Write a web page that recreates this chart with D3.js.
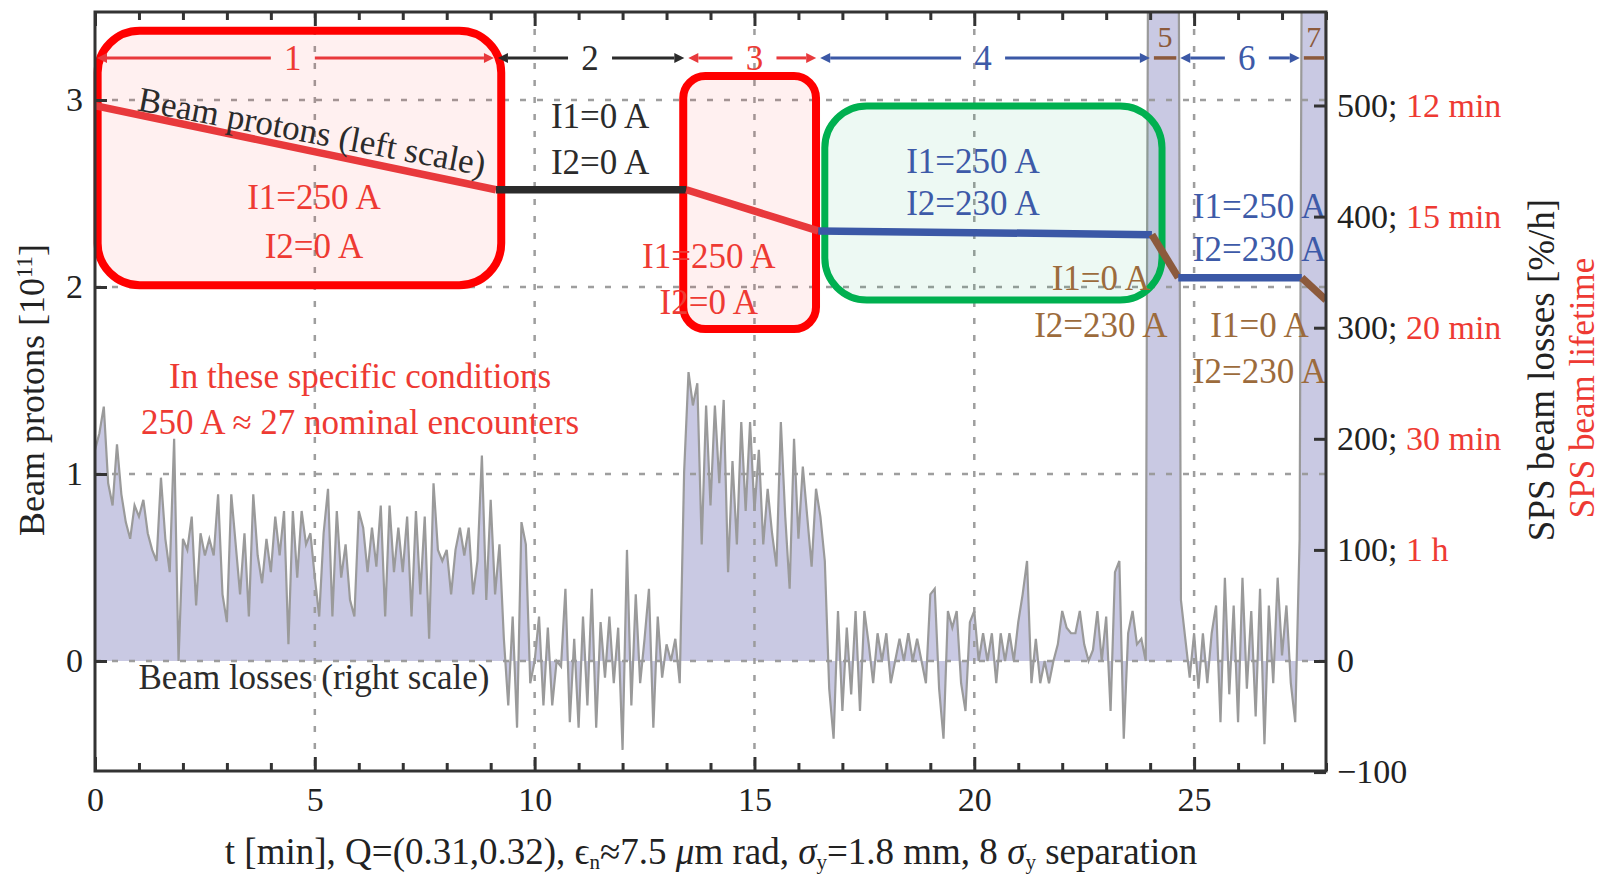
<!DOCTYPE html>
<html><head><meta charset="utf-8">
<script src="https://cdn.jsdelivr.net/npm/d3@7"></script>
<style>
body{margin:0;background:#fff}
svg{display:block}
text{font-family:"Liberation Serif","DejaVu Serif",serif}
</style>
</head><body>
<svg id="c" width="1603" height="876"></svg>
<script>
// ---------------- data ----------------
const timeStep = 0.1; // minutes between loss samples
const losses = [
 190,205,229,160,140,195,150,125,110,140,
 130,145,115,100,90,165,110,80,200,0,
 110,100,130,50,115,95,110,95,150,60,
 35,150,105,60,115,40,150,95,70,110,
 80,130,95,135,15,135,75,135,105,115,
 75,40,115,155,40,135,75,105,55,40,
 135,120,80,120,85,140,40,140,80,120,
 80,130,40,135,60,130,20,160,100,90,
 100,60,100,120,95,120,60,90,185,55,
 145,60,105,20,-40,40,-60,125,105,-20,
 0,40,-40,30,-40,0,-5,65,-55,20,
 -60,40,-40,65,-60,35,-15,40,-20,30,
 -80,100,-40,60,-20,20,65,-60,40,-15,
 15,0,20,-20,170,260,230,250,105,230,
 140,230,160,235,80,180,105,215,135,215,
 135,190,105,155,115,85,215,130,65,200,
 110,175,130,85,155,130,90,-25,-70,45,
 -45,30,-30,45,-45,45,15,-20,25,0,
 25,-20,0,20,0,25,0,20,0,-20,
 60,65,-25,-70,45,30,45,-20,-45,35,
 45,0,25,0,25,-20,25,0,25,0,
 35,60,90,-20,20,-20,0,-20,0,15,
 45,30,25,25,45,15,0,10,45,0,
 40,-45,80,90,-70,25,45,15,20,0,
 1200,1200,1200,1200,1200,1200,1200,55,20,-15,
 25,-25,25,-20,25,50,-55,75,-30,50,
 -55,75,-25,45,-50,65,-75,50,-20,75,
 5,50,-20,-55,110,1200,1200,1200,1200,1200,
 480
];

const phaseLabels = ["1","2","3","4","5","6","7"];
const phaseStart  = [0, 9.12, 13.45, 16.45, 24.04, 24.64, 27.45];
const phaseEnd    = [9.12, 13.45, 16.45, 24.04, 24.64, 27.45, 28];
const phaseKind   = ["red","black","red","blue","brown","blue","brown"];
const protonStart = [2.97, 2.52, 2.52, 2.30, 2.28, 2.05, 2.05];
const protonEnd   = [2.52, 2.52, 2.30, 2.28, 2.05, 2.05, 1.93];
const phaseLabelT = [4.5, 11.26, 15.0, 20.2, 24.34, 26.2, 27.72];
const phaseLabelRaised = [false,false,false,false,true,false,true];
const arrowLevel = 3.225, raisedLevel = 3.34;

const xTicks = [0,5,10,15,20,25];
const leftTicks = [0,1,2,3];
const rightTicks = [-100,0,100,200,300,400,500];
const lifetimeLabels = ["","","1 h","30 min","20 min","15 min","12 min"];

const boxT0 = [0.06, 13.38, 16.6];
const boxT1 = [9.24, 16.40, 24.27];
const boxV0 = [3.37, 3.128, 2.968];
const boxV1 = [2.01, 1.775, 1.93];
const boxKind = ["red","red","green"];

const noteText = ["Beam protons (left scale)",
 "I1=250 A","I2=0 A",
 "I1=0 A","I2=0 A",
 "I1=250 A","I2=0 A",
 "I1=250 A","I2=230 A",
 "I1=0 A","I2=230 A",
 "I1=250 A","I2=230 A",
 "I1=0 A","I2=230 A",
 "In these specific conditions","250 A ≈ 27 nominal encounters",
 "Beam losses (right scale)"];
const noteT = [4.94, 4.98,4.98, 11.49,11.49, 13.96,13.96, 19.97,19.97, 22.88,22.88, 26.49,26.49, 26.49,26.49, 6.03,6.03, 4.98];
const noteV = [2.834, 2.48,2.22, 2.917,2.671, 2.168,1.922, 2.676,2.452, 2.048,1.797, 2.436,2.206, 1.797,1.551, 1.524,1.278, -0.086];
const noteKind = ["black","redtext","redtext","black","black","redtext","redtext","bluetext","bluetext","browntext","browntext","bluetext","bluetext","browntext","browntext","redtext","redtext","black"];
const noteAngle = [10.7,0,0,0,0,0,0,0,0,0,0,0,0,0,0,0,0,0];

// ---------------- styles ----------------
const col = {red:"#e8393c", black:"#2b2b2b", blue:"#3b58a6", brown:"#8c5a3c",
  redtext:"#ee3a33", bluetext:"#3d5aa8", browntext:"#9c6b3c"};
const FS = 34, NFS = 35, TFS = 36;
const plotL=95, plotR=1326, plotT=12, plotB=771;

const svg = d3.select("#c");
svg.append("rect").attr("width",1603).attr("height",876).attr("fill","#fff");

const x = d3.scaleLinear().domain([0,28]).range([plotL,plotR]);
const yL = d3.scaleLinear().domain([0,3]).range([661,100]);
const yR = d3.scaleLinear().domain([0,500]).range([661,105.5]);

svg.append("clipPath").attr("id","clip").append("rect")
  .attr("x",plotL).attr("y",plotT).attr("width",plotR-plotL).attr("height",plotB-plotT);
const g = svg.append("g").attr("clip-path","url(#clip)");

// loss fill
const lossArea = d3.area().x((d,i)=>x(i*timeStep)).y0(yR(0)).y1(d=>yR(d));
const lossLine = d3.line().x((d,i)=>x(i*timeStep)).y(d=>yR(d));
g.append("path").datum(losses).attr("d",lossArea).attr("fill","#c9c9e3");

// grid
const grid = g.append("g").attr("stroke","#999").attr("stroke-width",2.5).attr("stroke-dasharray","6,11").attr("opacity",0.95);
xTicks.filter(d=>d>0).forEach(t=>grid.append("line").attr("x1",x(t)).attr("x2",x(t)).attr("y1",plotT).attr("y2",plotB));
leftTicks.forEach(v=>grid.append("line").attr("x1",plotL).attr("x2",plotR).attr("y1",yL(v)).attr("y2",yL(v)));

g.append("path").datum(losses).attr("d",lossLine).attr("fill","none").attr("stroke","#9a9a9a").attr("stroke-width",2.2);

// boxes
boxKind.forEach((k,i)=>{
  const x0=x(boxT0[i]), x1=x(boxT1[i]), y0=yL(boxV0[i]), y1=yL(boxV1[i]);
  const r = (x1-x0)<200 ? 22 : 42;
  svg.append("rect").attr("x",x0).attr("y",y0).attr("width",x1-x0).attr("height",y1-y0)
    .attr("rx",r).attr("ry",r)
    .attr("fill", k==="red" ? "rgba(255,0,0,0.06)" : "rgba(0,176,80,0.07)")
    .attr("stroke", k==="red" ? "#ff0000" : "#00b050")
    .attr("stroke-width", k==="red" ? 8 : 7);
});

// proton lines
const pl = svg.append("g").attr("clip-path","url(#clip)");
phaseKind.forEach((k,i)=>{
  pl.append("line").attr("x1",x(phaseStart[i])).attr("x2",x(phaseEnd[i]))
    .attr("y1",yL(protonStart[i])).attr("y2",yL(protonEnd[i]))
    .attr("stroke",col[k]).attr("stroke-width",7.5);
});

// phase arrows
const ar = svg.append("g");
phaseKind.forEach((k,i)=>{
  const c = col[k];
  const xa = x(phaseStart[i])+2, xb = x(phaseEnd[i])-2, ya = yL(arrowLevel);
  const lx = x(phaseLabelT[i]);
  const heads = (xb-xa) > 40;
  const hl = heads ? 10 : 0;
  if (phaseLabelRaised[i]) {
    ar.append("line").attr("x1",xa).attr("x2",xb).attr("y1",ya).attr("y2",ya).attr("stroke",c).attr("stroke-width",3.5);
  } else {
    const gap = 22;
    ar.append("line").attr("x1",xa+hl).attr("x2",lx-gap).attr("y1",ya).attr("y2",ya).attr("stroke",c).attr("stroke-width",3);
    ar.append("line").attr("x1",lx+gap).attr("x2",xb-hl).attr("y1",ya).attr("y2",ya).attr("stroke",c).attr("stroke-width",3);
  }
  if (heads) {
    ar.append("path").attr("d",`M${xa},${ya}L${xa+hl},${ya-5}L${xa+hl},${ya+5}Z`).attr("fill",c);
    ar.append("path").attr("d",`M${xb},${ya}L${xb-hl},${ya-5}L${xb-hl},${ya+5}Z`).attr("fill",c);
  }
  const ly = phaseLabelRaised[i] ? yL(raisedLevel) : ya;
  ar.append("text").attr("x",lx).attr("y",ly).attr("dy","0.35em").attr("text-anchor","middle")
    .attr("font-size", phaseLabelRaised[i] ? 30 : NFS)
    .attr("fill", k==="red" ? col.redtext : (k==="blue" ? col.bluetext : (k==="brown" ? col.brown : col.black)))
    .text(phaseLabels[i]);
});

// notes
noteText.forEach((s,i)=>{
  const px=x(noteT[i]), py=yL(noteV[i]);
  svg.append("text").attr("x",px).attr("y",py).attr("dy","0.35em").attr("text-anchor","middle")
    .attr("font-size",NFS).attr("fill",col[noteKind[i]])
    .attr("transform", noteAngle[i] ? `rotate(${noteAngle[i]},${px},${py})` : null)
    .text(s);
});

// axes
function styleAxis(sel){
  sel.select(".domain").remove();
  sel.selectAll(".tick line").attr("stroke","#333").attr("stroke-width",3);
  sel.selectAll(".tick text").attr("font-size",FS).attr("fill","#222").attr("font-family","Liberation Serif, serif");
}
const minorX = d3.range(0,29,1).filter(d=>d%5!==0);
svg.append("g").attr("transform",`translate(0,${plotB})`)
  .call(d3.axisBottom(x).tickValues(xTicks).tickSize(-14).tickPadding(16).tickFormat(d3.format("d"))).call(styleAxis);
svg.append("g").attr("transform",`translate(0,${plotB})`)
  .call(d3.axisBottom(x).tickValues(minorX).tickSize(-8).tickFormat("")).call(styleAxis);
svg.append("g").attr("transform",`translate(0,${plotT})`)
  .call(d3.axisTop(x).tickValues(xTicks).tickSize(-14).tickFormat("")).call(styleAxis);
svg.append("g").attr("transform",`translate(0,${plotT})`)
  .call(d3.axisTop(x).tickValues(minorX).tickSize(-8).tickFormat("")).call(styleAxis);
svg.append("g").attr("transform",`translate(${plotL},0)`)
  .call(d3.axisLeft(yL).tickValues(leftTicks).tickSize(-12).tickPadding(12).tickFormat(d3.format("d"))).call(styleAxis);
const ra = svg.append("g").attr("transform",`translate(${plotR},0)`)
  .call(d3.axisRight(yR).tickValues(rightTicks).tickSize(-12).tickPadding(11).tickFormat("")).call(styleAxis);
ra.selectAll(".tick text").each(function(d){
  const i = rightTicks.indexOf(d);
  const t = d3.select(this);
  t.append("tspan").attr("fill","#222").text(d<0 ? "−" + Math.abs(d) : String(d));
  if (lifetimeLabels[i]) {
    t.append("tspan").attr("fill","#222").text("; ");
    t.append("tspan").attr("fill",col.redtext).text(lifetimeLabels[i]);
  }
});

// frame
svg.append("rect").attr("x",plotL).attr("y",plotT).attr("width",plotR-plotL).attr("height",plotB-plotT)
  .attr("fill","none").attr("stroke","#333").attr("stroke-width",3);

// axis titles
const lt = svg.append("text").attr("transform","translate(31,390) rotate(-90)").attr("text-anchor","middle")
  .attr("dy","0.35em").attr("font-size",TFS).attr("fill","#222");
lt.append("tspan").text("Beam protons [10");
lt.append("tspan").attr("baseline-shift","super").attr("font-size",23).text("11");
lt.append("tspan").text("]");

svg.append("text").attr("transform","translate(1541,370) rotate(-90)").attr("text-anchor","middle")
  .attr("dy","0.35em").attr("font-size",37).attr("fill","#222").text("SPS beam losses [%/h]");
svg.append("text").attr("transform","translate(1582,388) rotate(-90)").attr("text-anchor","middle")
  .attr("dy","0.35em").attr("font-size",35).attr("fill",col.redtext).text("SPS beam lifetime");

// x title: y positioned so baseline sits at 864
const xt = svg.append("text").attr("x",711).attr("y",864).attr("text-anchor","middle")
  .attr("font-size",37).attr("fill","#222");
const parts = [
  ["t [min], Q=(0.31,0.32), ϵ", 0, false],
  ["n", 1, false],
  ["≈7.5 ", 0, false],
  ["μ", 0, true],
  ["m rad, ", 0, false],
  ["σ", 0, true],
  ["y", 1, false],
  ["=1.8 mm, 8 ", 0, false],
  ["σ", 0, true],
  ["y", 1, false],
  [" separation", 0, false]
];
let prevSub = 0;
parts.forEach(([s, isSub, ital])=>{
  const ts = xt.append("tspan").text(s);
  const shift = (isSub ? 5 : 0) - (prevSub ? 5 : 0);
  if (shift) ts.attr("dy", shift);
  if (isSub) ts.attr("font-size", 21);
  if (ital) ts.attr("font-style","italic");
  prevSub = isSub;
});
</script>
</body></html>
